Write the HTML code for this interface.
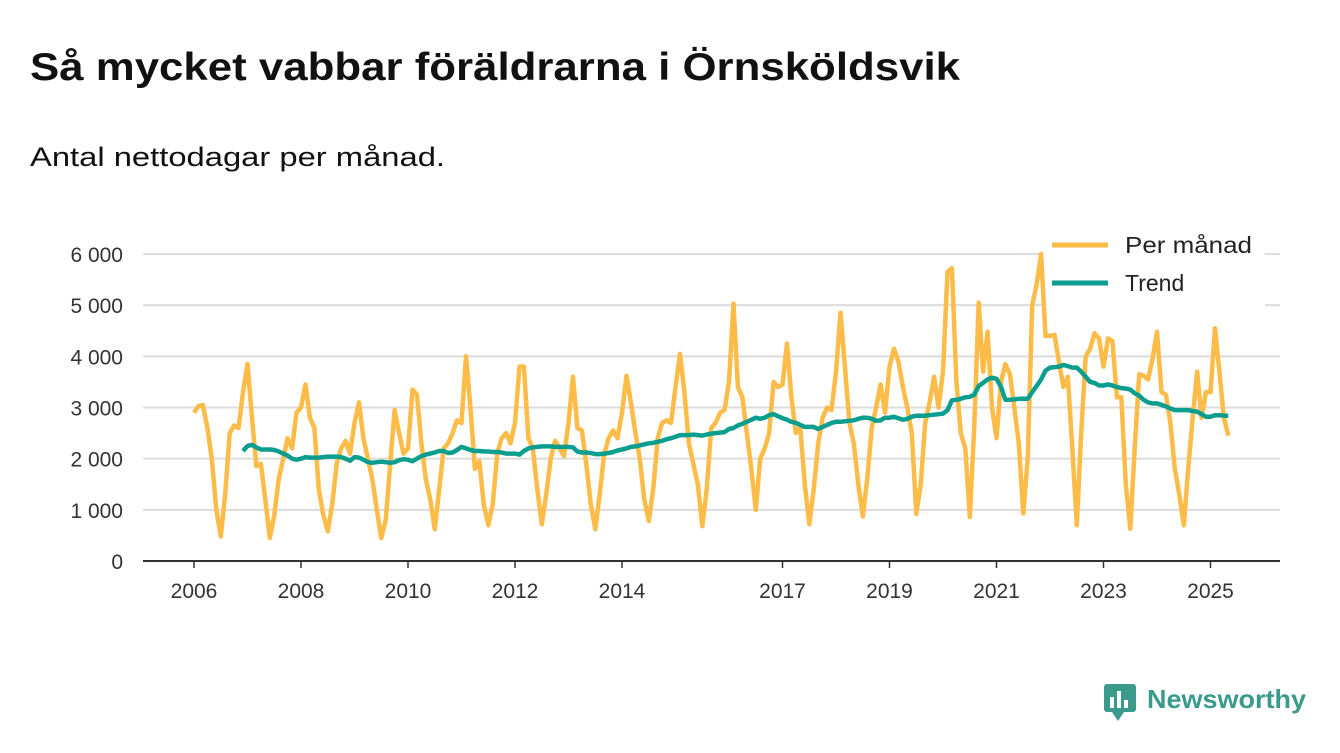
<!DOCTYPE html>
<html><head><meta charset="utf-8"><style>
body{margin:0;background:#fff;width:1340px;height:753px;overflow:hidden;font-family:"Liberation Sans",sans-serif}
</style></head><body>
<svg width="1340" height="753" style="position:absolute;left:0;top:0">
<text x="30" y="80" font-size="39" font-weight="bold" fill="#111" textLength="930" lengthAdjust="spacingAndGlyphs">Så mycket vabbar föräldrarna i Örnsköldsvik</text>
<text x="30" y="166" font-size="27" fill="#111" textLength="415" lengthAdjust="spacingAndGlyphs">Antal nettodagar per månad.</text>
<g id="grid"></g>
<rect x="1043" y="228" width="222" height="80" fill="#fff"/>
<g id="yt"></g><g id="xt"></g><g id="lines"></g>
<g>
<line x1="1052" y1="245" x2="1108" y2="245" stroke="#fdbb47" stroke-width="5"/>
<text x="1125" y="253" font-size="23" fill="#222" textLength="127" lengthAdjust="spacingAndGlyphs">Per månad</text>
<line x1="1052" y1="283" x2="1108" y2="283" stroke="#0b9e8f" stroke-width="5"/>
<text x="1125" y="291" font-size="23" fill="#222">Trend</text>
</g>
<g>
<rect x="1104" y="684" width="32" height="28" rx="3" fill="#3a9b8c"/>
<polygon points="1112,712 1124,712 1118,721" fill="#3a9b8c"/>
<rect x="1110" y="697" width="4" height="11" fill="#fff"/><rect x="1117" y="691" width="4" height="17" fill="#fff"/><rect x="1124" y="700" width="4" height="8" fill="#fff"/>
<text x="1147" y="708" font-size="26" font-weight="bold" fill="#3a9b8c" textLength="159" lengthAdjust="spacingAndGlyphs">Newsworthy</text>
</g>
</svg>
<script>
const yTicks=[0,1000,2000,3000,4000,5000,6000];
const yTickLabels=["0","1 000","2 000","3 000","4 000","5 000","6 000"];
const xTickYears=[2006,2008,2010,2012,2014,2017,2019,2021,2023,2025];
const perStart=[2006,1];
const perMonth=[
2900,3030,3050,2600,2000,1000,480,1300,2500,2650,2600,3300,
3850,2800,1850,1900,1200,450,900,1600,2000,2400,2200,2900,
3000,3450,2800,2600,1400,900,580,1100,1900,2200,2350,2100,
2700,3100,2400,2000,1600,1000,450,800,1900,2950,2500,2100,
2200,3350,3250,2300,1600,1200,620,1400,2200,2300,2500,2750,
2700,4000,3000,1800,1950,1100,700,1100,2100,2400,2500,2300,
2700,3800,3800,2400,2200,1400,720,1300,2000,2350,2200,2050,
2700,3600,2600,2550,1900,1100,620,1300,2100,2400,2550,2400,
2900,3620,3100,2500,2000,1200,780,1400,2400,2700,2750,2700,
3400,4050,3300,2300,1900,1500,680,1400,2600,2700,2900,2950,
3500,5030,3400,3200,2500,1800,1000,2000,2200,2500,3500,3400,
3450,4250,3200,2500,2600,1500,720,1400,2300,2800,3000,2950,
3700,4850,3800,2700,2300,1500,870,1600,2600,3000,3450,2900,
3800,4150,3900,3400,3000,2500,920,1500,2700,3100,3600,3000,
3700,5650,5720,3500,2500,2200,860,2600,5050,3700,4480,3000,
2400,3500,3850,3650,3000,2300,930,2000,5000,5400,6000,4400,
4400,4420,3900,3400,3600,2200,700,2500,4000,4150,4450,4350,
3800,4350,4300,3200,3200,1500,630,2200,3650,3620,3550,3950,
4480,3300,3250,2700,1800,1300,700,1800,2800,3700,2800,3300,
3300,4550,3700,2800,2450];
const trendStart=[2006,12];
const trend=[2150,
2250,2270,2220,2180,2180,2180,2170,2140,2100,2060,2000,1980,
2000,2030,2020,2020,2020,2030,2040,2040,2040,2030,2000,1960,
2030,2020,1980,1930,1920,1930,1940,1930,1920,1930,1970,1990,
1980,1950,2000,2050,2080,2100,2120,2150,2150,2110,2120,2170,
2230,2200,2170,2150,2150,2140,2140,2130,2130,2120,2100,2100,
2100,2080,2150,2200,2220,2230,2240,2240,2240,2230,2230,2230,
2230,2220,2140,2120,2120,2110,2090,2090,2100,2110,2130,2160,
2180,2200,2230,2240,2260,2280,2300,2310,2330,2350,2380,2400,
2430,2460,2460,2460,2470,2460,2450,2470,2490,2500,2510,2520,
2580,2600,2650,2680,2720,2760,2800,2780,2800,2850,2870,2830,
2790,2760,2720,2700,2660,2620,2620,2620,2580,2620,2660,2700,
2720,2720,2730,2740,2750,2780,2800,2800,2780,2740,2750,2800,
2800,2820,2790,2760,2780,2820,2840,2840,2840,2850,2860,2870,
2880,2950,3140,3150,3170,3200,3210,3250,3420,3480,3550,3580,
3560,3400,3150,3150,3160,3170,3170,3170,3300,3420,3550,3720,
3780,3790,3800,3830,3810,3780,3780,3700,3600,3500,3480,3430,
3430,3450,3430,3400,3380,3370,3350,3280,3230,3150,3100,3080,
3080,3050,3020,2980,2950,2950,2950,2950,2930,2920,2870,2820,
2820,2850,2850,2840,2840];
const NS="http://www.w3.org/2000/svg";
const X0=143,X1=1280;
function xs(yr,m){return 194+53.5*((yr-2006)+(m-1)/12);}
function ys(v){return 561-v*(307/6000);}
function mk(t,a,p){const e=document.createElementNS(NS,t);for(const k in a)e.setAttribute(k,a[k]);document.getElementById(p).appendChild(e);return e;}
yTicks.forEach((v,i)=>{
 if(v>0){const g=mk('line',{x1:X0,x2:X1,y1:ys(v),y2:ys(v),stroke:'#dcdcdc','stroke-width':2},'grid');
 
 }
 const t=mk('text',{x:123,y:ys(v)+8,'font-size':21,fill:'#333','text-anchor':'end'},'yt');
 t.textContent=yTickLabels[i];
 
 
});
const ax=mk('line',{x1:X0,x2:X1,y1:561,y2:561,stroke:'#333','stroke-width':2},'grid');


xTickYears.forEach(yr=>{
 const x=xs(yr,1);
 const tk=mk('line',{x1:x,x2:x,y1:561,y2:568,stroke:'#333','stroke-width':1.5},'xt');
 
 
 const t=mk('text',{x:x,y:598,'font-size':21,fill:'#333','text-anchor':'middle'},'xt');
 t.textContent=yr;
 
 
});
function pts(arr,st){return arr.map((v,i)=>{const mi=st[1]-1+i;return xs(st[0]+Math.floor(mi/12),mi%12+1).toFixed(1)+','+ys(v).toFixed(1);}).join(' ');}
const l1=mk('polyline',{points:pts(perMonth,perStart),fill:'none',stroke:'#fdbb47','stroke-width':4.5,'stroke-linejoin':'round'},'lines');


const l2=mk('polyline',{points:pts(trend,trendStart),fill:'none',stroke:'#0b9e8f','stroke-width':4.5,'stroke-linejoin':'round'},'lines');


</script>
</body></html>
